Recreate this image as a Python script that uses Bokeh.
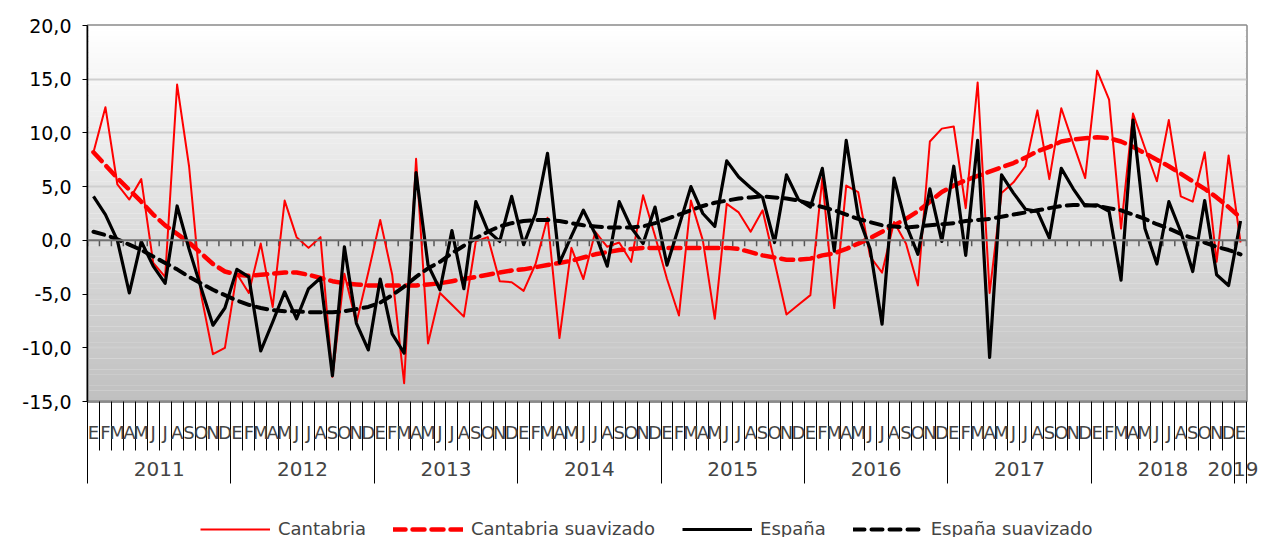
from bokeh.plotting import figure
from bokeh.layouts import column
from bokeh.models import (Range1d, FixedTicker, LinearAxis, Legend, LegendItem,
                          Span, AllLabels, ColumnDataSource)
from bokeh.embed import file_html
from bokeh.resources import INLINE

# ---------------- data ----------------
MONTHS = ["E", "F", "M", "A", "M", "J", "J", "A", "S", "O", "N", "D"]
YEARS = ["2011", "2012", "2013", "2014", "2015", "2016", "2017", "2018", "2019"]
Y_TICKS = [-15, -10, -5, 0, 5, 10, 15, 20]
SERIES = ["Cantabria", "Cantabria suavizado", "España", "España suavizado"]

cantabria = [
    8.2, 12.4, 5.2, 3.8, 5.7, -2.1, -3.4, 14.5, 6.9, -5.0, -10.6, -10.0,
    -3.1, -4.9, -0.3, -6.2, 3.7, 0.3, -0.7, 0.3, -12.7, -3.1, -7.7, -3.0,
    1.9, -3.2, -13.3, 7.6, -9.6, -4.9, -6.0, -7.1, -0.1, 0.3, -3.8, -3.9,
    -4.7, -2.2, 2.1, -9.1, -0.7, -3.6, 0.8, -0.6, -0.2, -2.0, 4.2, 0.4,
    -3.6, -7.0, 3.7, 0.0, -7.3, 3.4, 2.6, 0.8, 2.8, -2.0, -6.9, -6.0,
    -5.1, 5.8, -6.3, 5.1, 4.5, -1.5, -3.0, 1.7, -0.3, -4.2, 9.2, 10.4,
    10.6, 3.0, 14.7, -4.9, 4.4, 5.4, 6.9, 12.1, 5.7, 12.3, 9.0, 5.8,
    15.8, 13.1, 1.1, 11.8, 8.6, 5.5, 11.2, 4.1, 3.6, 8.2, -2.0, 7.9,
    -0.2,
]
cantabria_suav = [
    8.2, 7.0, 5.8, 4.7, 3.6, 2.4, 1.4, 0.6, -0.2, -1.2, -2.2, -2.9,
    -3.2, -3.3, -3.2, -3.1, -3.0, -3.0, -3.2, -3.5, -3.8, -4.0, -4.1, -4.2,
    -4.2, -4.2, -4.2, -4.2, -4.1, -4.0, -3.8, -3.6, -3.4, -3.2, -3.0, -2.8,
    -2.7, -2.5, -2.3, -2.1, -1.9, -1.6, -1.3, -1.1, -0.9, -0.8, -0.7, -0.7,
    -0.7, -0.7, -0.7, -0.7, -0.7, -0.7, -0.8, -1.1, -1.4, -1.6, -1.8, -1.8,
    -1.7, -1.4, -1.2, -0.8, -0.3, 0.2, 0.8, 1.4, 2.0, 2.7, 3.6, 4.5,
    5.1, 5.6, 6.0, 6.4, 6.8, 7.2, 7.7, 8.3, 8.7, 9.2, 9.4, 9.5,
    9.6, 9.5, 9.2, 8.7, 8.1, 7.5, 6.9, 6.2, 5.5, 4.8, 4.0, 3.1,
    2.1,
]
espana = [
    4.1, 2.4, 0.0, -4.9, -0.1, -2.4, -4.0, 3.2, -0.8, -4.4, -7.9, -6.3,
    -2.7, -3.4, -10.3, -7.6, -4.8, -7.3, -4.5, -3.5, -12.6, -0.6, -7.7, -10.2,
    -3.6, -8.7, -10.5, 6.3, -2.3, -4.6, 0.9, -4.5, 3.6, 0.9, -0.1, 4.1,
    -0.4, 2.5, 8.1, -2.1, 0.4, 2.8, 0.6, -2.4, 3.6, 1.2, -0.3, 3.1,
    -2.3, 1.3, 5.0, 2.5, 1.3, 7.4, 5.9, 4.9, 4.0, -0.2, 6.1, 3.8,
    3.1, 6.7, -1.0, 9.3, 2.3, -0.8, -7.8, 5.8, 1.5, -1.3, 4.8, -0.1,
    6.9, -1.4, 9.3, -10.9, 6.1, 4.4, 2.9, 2.7, 0.2, 6.7, 4.8, 3.2,
    3.3, 2.7, -3.7, 11.2, 1.1, -2.2, 3.6, 0.8, -2.9, 3.7, -3.2, -4.2,
    1.8,
]
espana_suav = [
    0.8, 0.5, 0.1, -0.4, -0.9, -1.5, -2.1, -2.7, -3.4, -4.0, -4.6, -5.1,
    -5.6, -6.0, -6.3, -6.5, -6.6, -6.6, -6.7, -6.7, -6.7, -6.6, -6.4, -6.2,
    -5.8, -5.1, -4.3, -3.4, -2.6, -2.0, -1.2, -0.5, 0.2, 0.8, 1.3, 1.6,
    1.8, 1.9, 1.9, 1.8, 1.6, 1.4, 1.3, 1.2, 1.2, 1.2, 1.3, 1.6,
    2.0, 2.4, 2.8, 3.2, 3.5, 3.7, 3.9, 4.0, 4.1, 4.0, 3.9, 3.7,
    3.4, 3.1, 2.8, 2.4, 2.0, 1.7, 1.4, 1.3, 1.2, 1.3, 1.4, 1.5,
    1.6, 1.8, 1.9, 2.0, 2.2, 2.4, 2.6, 2.8, 3.0, 3.2, 3.3, 3.3,
    3.2, 3.0, 2.8, 2.4, 2.0, 1.5, 1.1, 0.6, 0.2, -0.2, -0.6, -0.9,
    -1.3,
]

# ---------------- derived positions (category scale) ----------------
n = len(cantabria)
x = [i + 0.5 for i in range(n)]                 # category centres
bounds = list(range(n + 1))                      # category boundaries
month_labels = {i + 0.5: MONTHS[i % 12] for i in range(n)}
year_starts = [b for b in range(0, n, 12)]
year_bounds = year_starts + [n]
year_centres = [(year_bounds[k] + year_bounds[k + 1]) / 2 for k in range(len(year_starts))]
year_labels = {c: YEARS[k] for k, c in enumerate(year_centres)}

y_lo, y_hi = Y_TICKS[0], Y_TICKS[-1]

FONT = "DejaVu Sans"
COLS = ["cant", "cants", "esp", "esps"]
STYLES = [
    dict(line_color="#ff0000", line_width=2, line_join="round"),
    dict(line_color="#ff0000", line_width=4.5, line_dash="12 7", line_cap="round", line_join="round"),
    dict(line_color="#000000", line_width=3.2, line_join="round"),
    dict(line_color="#000000", line_width=4, line_dash="11 7", line_cap="round", line_join="round"),
]

p = figure(width=1258, height=501,
           x_range=Range1d(0, n), y_range=Range1d(y_lo, y_hi),
           x_axis_location=None, toolbar_location=None,
           output_backend="svg",
           min_border_left=87, min_border_right=12, min_border_top=25,
           min_border_bottom=100)
p.background_fill_color = "#ffffff"
p.border_fill_color = "#ffffff"
p.outline_line_color = "#8a8a8a"
p.outline_line_width = 2.5

# background gradient (white at top to grey at bottom)
nb = 70
step = (y_hi - y_lo) / nb
bb, tt, cc = [], [], []
for k in range(nb):
    b = y_lo + k * step
    frac = (b + step / 2 - y_lo) / (y_hi - y_lo)
    g = int(round(192 + (255 - 192) * frac))
    bb.append(b)
    tt.append(b + step * 1.02)
    cc.append("#%02x%02x%02x" % (g, g, g))
p.quad(left=0, right=n, bottom=bb, top=tt, fill_color=cc, line_color=None, level="image")

# y axis
p.yaxis.ticker = FixedTicker(ticks=Y_TICKS)
p.yaxis.major_label_overrides = {v: ("%.1f" % v).replace(".", ",") for v in Y_TICKS}
p.yaxis.major_label_text_font = FONT
p.yaxis.major_label_text_font_size = "19px"
p.yaxis.major_label_text_color = "#000000"
p.yaxis.axis_line_color = "#000000"
p.yaxis.axis_line_width = 1.5
p.yaxis.major_tick_out = 5
p.yaxis.major_tick_in = 0
p.yaxis.minor_tick_line_color = None
p.yaxis.major_label_standoff = 11
p.ygrid.ticker = FixedTicker(ticks=Y_TICKS)
p.ygrid.grid_line_color = "#cfcfcf"
p.ygrid.grid_line_width = 2
p.xgrid.visible = False

# zero line with small category ticks
p.add_layout(Span(location=0, dimension="width", line_color="#707070", line_width=2))
tick_len = (y_hi - y_lo) * 6 / 376
p.segment(x0=bounds, y0=[0] * len(bounds), x1=bounds, y1=[-tick_len] * len(bounds),
          line_color="#555555", line_width=1.5)

# month axis (letters at centres, separators as minor ticks)
month_axis = LinearAxis(ticker=FixedTicker(ticks=x, minor_ticks=bounds))
month_axis.major_label_overrides = month_labels
month_axis.major_label_policy = AllLabels()
month_axis.major_label_text_font = FONT
month_axis.major_label_text_font_size = "18px"
month_axis.major_label_standoff = -29
month_axis.major_tick_out = 0
month_axis.major_tick_in = 0
month_axis.major_tick_line_color = None
month_axis.minor_tick_out = 49
month_axis.minor_tick_in = 0
month_axis.minor_tick_line_color = "#000000"
month_axis.minor_tick_line_width = 1
month_axis.axis_line_color = "#8a8a8a"
month_axis.axis_line_width = 2.5
p.add_layout(month_axis, "below")

# year axis
year_axis = LinearAxis(ticker=FixedTicker(ticks=year_centres, minor_ticks=year_bounds))
year_axis.major_label_overrides = year_labels
year_axis.major_label_policy = AllLabels()
year_axis.major_label_text_font = FONT
year_axis.major_label_text_font_size = "20px"
year_axis.major_label_standoff = -22
year_axis.major_tick_out = 0
year_axis.major_tick_in = 0
year_axis.major_tick_line_color = None
year_axis.minor_tick_out = 38
year_axis.minor_tick_in = 0
year_axis.minor_tick_line_color = "#000000"
year_axis.minor_tick_line_width = 1
year_axis.axis_line_color = None
p.add_layout(year_axis, "below")

# series
src = ColumnDataSource(dict(x=x, cant=cantabria, cants=cantabria_suav,
                            esp=espana, esps=espana_suav))
for col, st in zip(COLS, STYLES):
    p.line("x", col, source=src, **st)

# legend strip below the chart (its view window lies far away from the data,
# so the renderers only provide the legend keys)
leg = figure(width=1258, height=40, x_range=Range1d(0, 1), y_range=Range1d(1000, 1001),
             x_axis_location=None, y_axis_location=None, toolbar_location=None,
             output_backend="svg", min_border=0)
leg.outline_line_color = None
leg.background_fill_color = "#ffffff"
leg.border_fill_color = "#ffffff"
leg.xgrid.visible = False
leg.ygrid.visible = False
items = []
for name, col, st in zip(SERIES, COLS, STYLES):
    r = leg.line("x", col, source=src, **st)
    items.append(LegendItem(label=name, renderers=[r]))
legend = Legend(items=items, orientation="horizontal", location=(113, 2))
legend.label_text_font = FONT
legend.label_text_font_size = "18px"
legend.glyph_width = 70
legend.label_standoff = 8
legend.spacing = 27
legend.border_line_color = None
legend.background_fill_alpha = 0
legend.margin = 0
legend.padding = 0
leg.add_layout(legend, "center")

layout = column(p, leg, spacing=0)
open("out.html", "w").write(file_html(layout, INLINE))
